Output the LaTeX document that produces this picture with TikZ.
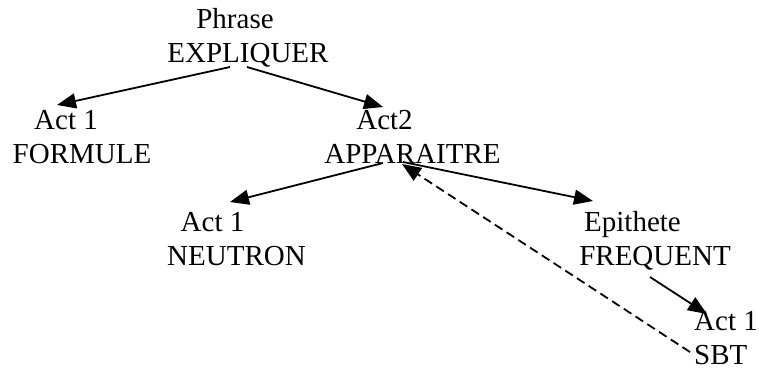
\documentclass[tikz,border=0pt]{standalone}
\usepackage{fontspec}
\setmainfont{Liberation Serif}
\usetikzlibrary{arrows.meta,calc}

\tikzset{
  label/.style={font=\fontsize{29bp}{34bp}\selectfont, align=center, inner sep=0pt, anchor=base},
  link/.style={line width=1.8bp, -{Triangle[length=19bp,width=15bp]}},
  back/.style={link, dash pattern=on 9bp off 5bp}
}

\begin{document}
\begin{tikzpicture}[x=1bp, y=-1bp]
  \useasboundingbox (0,0) rectangle (759,369);

  % labels: word class on the first line, the word itself on the second
  % (each node is placed by the baseline of its last line)
  \node[label] (phrase)     at (248,62)    {Phrase\hspace*{26bp}\\EXPLIQUER};
  \node[label] (formule)    at (82,163)    {Act 1\hspace*{32bp}\\FORMULE};
  \node[label] (apparaitre) at (412.5,163) {Act2\hspace*{56bp}\\APPARAITRE};
  \node[label] (neutron)    at (236.5,265) {Act 1\hspace*{48bp}\\NEUTRON};
  \node[label] (frequent)   at (655,265)   {Epithete\hspace*{45bp}\\FREQUENT};
  \node[label, align=left, anchor=base west] (sbt) at (694,364) {Act 1\\SBT};

  % dependency arrows
  \draw[link] ($(phrase.base)+(-18,5)$)       -- ($(formule.base)+(-25,-58)$);
  \draw[link] ($(phrase.base)+(-1,5)$)        -- ($(apparaitre.base)+(-29.5,-56)$);
  \draw[link] ($(apparaitre.base)+(-29.5,0)$) -- ($(neutron.base)+(-6.5,-63)$);
  \draw[link] ($(apparaitre.base)+(-9.5,-1)$) -- ($(frequent.base)+(-62,-64)$);
  \draw[link] ($(frequent.base)+(-5,12)$)     -- ($(sbt.base west)+(13,-50)$);

  % coreference back to the verb
  \draw[back] ($(sbt.base west)+(-4,-12)$)    -- ($(apparaitre.base)+(-10.5,1)$);
\end{tikzpicture}
\end{document}
